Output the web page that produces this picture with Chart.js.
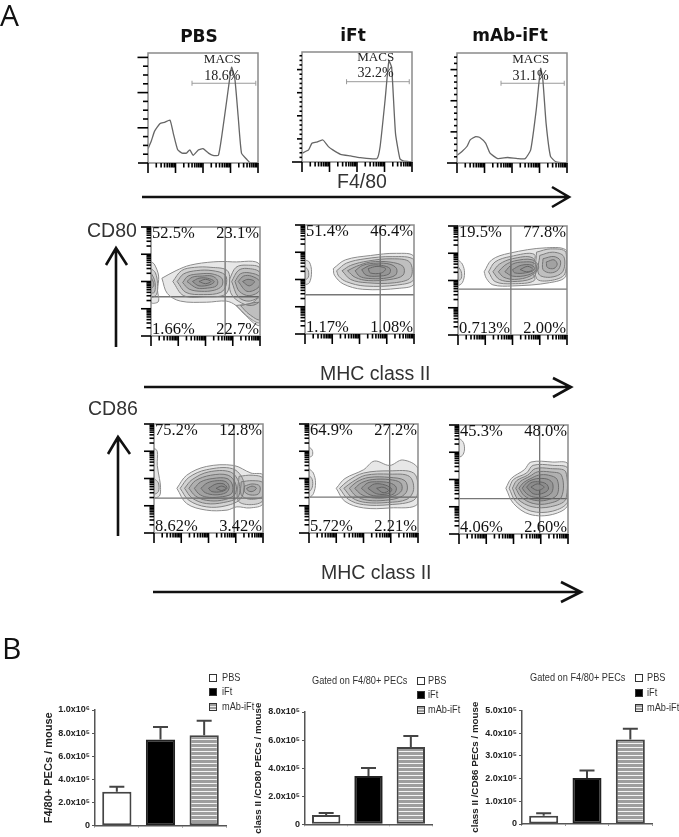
<!DOCTYPE html>
<html>
<head>
<meta charset="utf-8">
<title>F4/80 and MHC class II panels</title>
<script src="https://cdn.jsdelivr.net/npm/chart.js@4/dist/chart.umd.min.js"></script>
<style>
  html, body { margin: 0; padding: 0; background: #fff; }
  #page { position: relative; width: 679px; height: 837px; overflow: hidden; filter: blur(0.45px); }
  #page canvas { position: absolute; }
  #arrows { position: absolute; left: 0; top: 0; }
  .txt { position: absolute; white-space: nowrap; font-family: "Liberation Sans", sans-serif; line-height: 1; }
  .letter { font-family: "Open Sans", sans-serif; font-size: 30px; color: #111; }
  .group { font-family: "DejaVu Sans", sans-serif; font-size: 17px; font-weight: bold; color: #111; transform: translate(-50%, -50%); }
  .axisname { font-size: 19.5px; color: #333; transform: translateY(-50%); }
  .gated, .legtext { font-size: 11.5px; color: #333; transform-origin: left center; transform: translateY(-50%) scaleX(0.8); }
  .swatch { position: absolute; width: 6px; height: 6px; border: 1.5px solid #333; transform: translateY(-50%); }
</style>
</head>
<body>
<div id="page">
  <svg id="arrows" width="679" height="837" fill="none" stroke="#111" stroke-width="2.6">
    <path d="M142 197H568M552 187L569 197L552 207"/>
    <path d="M116 347V249M106 265L116 248L127 265"/>
    <path d="M144 387H570M553 378L571 387L553 397"/>
    <path d="M118 536V438M108 454L118 437L130 454"/>
    <path d="M153 592H580M561 582L581 592L561 602"/>
  </svg>
</div>
<script>
// bar charts
const categories = ['PBS', 'iFt', 'mAb-iFt'];
const f480Means = [294000, 746000, 781000];
const f480Tops = [337000, 853000, 908000];
const f480Ticks = ['0', '2.0x10⁵', '4.0x10⁵', '6.0x10⁵', '8.0x10⁵', '1.0x10⁶'];
const cd80Means = [66500, 344000, 551000];
const cd80Tops = [80700, 401000, 629000];
const cd80Ticks = ['0', '2.0x10⁵', '4.0x10⁵', '6.0x10⁵', '8.0x10⁵'];
const cd86Means = [36700, 202000, 372000];
const cd86Tops = [46900, 235000, 419000];
const cd86Ticks = ['0', '1.0x10⁵', '2.0x10⁵', '3.0x10⁵', '4.0x10⁵', '5.0x10⁵'];

// histograms, x and y in % of the frame
const histPbsX = [0, 3, 6, 11, 15, 20, 23, 27, 31, 35, 38, 41, 46, 50, 55, 59, 64, 67, 72, 76, 79, 82, 85, 90, 93, 100];
const histPbsY = [13, 20, 29, 36, 37, 39, 27, 12, 9, 9, 12, 7, 12, 13, 9, 7, 7, 24, 60, 87, 76, 42, 9, 3, 0, 0];
const histIftX = [0, 6, 9, 13, 19, 24, 28, 35, 44, 53, 68, 71, 75.5, 79, 81.5, 85, 89, 92, 100];
const histIftY = [8, 11, 17, 18, 20, 14, 11, 7, 5.5, 4, 3, 14, 56, 92, 86, 26, 3, 1, 0];
const histMabX = [0, 5, 9, 12, 17, 21, 26, 30, 37, 46, 55, 62, 67, 72, 76, 78, 81, 85, 90, 100];
const histMabY = [7, 11, 15, 21, 24, 23, 18, 9, 4, 5, 4, 4, 12, 48, 86, 76, 36, 6, 1, 0];

// contour rings, outer to inner, [x, y] in % of the frame
const cd80PbsRings = [
  [[10,53],[23,60],[36,65],[57,68],[75,68],[100,65],[100,13],[87,19],[78,28],[69,32],[51,31],[27,32],[15,39]],
  [[78,28],[87,19],[94,12],[100,10],[100,35],[92,30]],
  [[82,28],[90,20],[100,15],[100,30]],
  [[0,68],[3,66],[7,55],[6,42],[7,32],[3,30],[0,31]],
  [[0,62],[4,58],[6,48],[5,38],[0,36]],
  [[0,58],[3,52],[4,46],[3,40],[0,40]],
  [[20,50],[28,60],[40,63],[55,63],[70,60],[72,48],[68,38],[50,36],[30,37]],
  [[24,50],[30,57],[42,60],[56,60],[68,56],[69,47],[64,40],[48,38],[32,40]],
  [[29,49],[34,55],[45,57],[56,57],[65,53],[65,46],[58,42],[46,41],[35,43]],
  [[33,50],[38,54],[47,55],[56,55],[61,51],[60,46],[52,44],[42,44]],
  [[38,50],[44,53],[52,53],[58,50],[54,47],[44,46]],
  [[72,52],[78,63],[88,65],[100,62],[100,33],[92,28],[80,32],[73,40]],
  [[74,50],[80,60],[88,62],[100,58],[100,38],[90,32],[80,36]],
  [[77,50],[82,57],[90,58],[100,54],[100,42],[90,37],[81,41]],
  [[80,50],[85,55],[92,55],[100,50],[98,44],[88,41]],
  [[0,54],[2,50],[2.5,46],[0,44]],
  [[84,50],[89,52],[95,50],[90,46]],
  [[44,50],[50,52],[55,50],[50,48]]
];
const cd80IftRings = [
  [[0,68],[4,66],[6,57],[4,47],[0,46]],
  [[0,62],[3,58],[3,52],[0,50]],
  [[26,60],[37,68],[60,72],[84,74],[100,71],[100,46],[87,42],[53,41],[35,46],[27,54]],
  [[29,58],[38,65],[55,69],[80,71],[100,68],[100,50],[85,45],[55,44],[38,48],[31,53]],
  [[34,58],[42,63],[58,67],[80,69],[96,66],[97,52],[82,47],[57,47],[42,50]],
  [[39,58],[47,62],[60,66],[78,66],[90,62],[90,54],[78,50],[58,49],[46,52]],
  [[46,58],[53,63],[66,65],[78,64],[84,60],[83,54],[72,51],[58,51],[50,53]],
  [[52,59],[60,63],[70,63],[78,60],[77,55],[66,53],[56,54]],
  [[58,60],[66,62],[74,60],[70,56],[60,56]]
];
const cd80MabRings = [
  [[0,69],[4,65],[6,57],[4,48],[0,46]],
  [[0,63],[3,58],[3,52],[0,50]],
  [[24,58],[31,69],[47,75],[81,80],[100,77],[99,54],[84,48],[50,45],[32,46],[26,52]],
  [[72,76],[85,79],[99,76],[98,56],[85,50],[72,52]],
  [[75,73],[87,76],[97,72],[96,58],[85,53],[74,56]],
  [[78,70],[88,72],[94,68],[92,60],[85,57],[78,60]],
  [[81,67],[88,69],[91,65],[88,61],[82,62]],
  [[28,58],[34,67],[48,72],[70,74],[68,60],[70,50],[50,47],[34,49]],
  [[32,58],[38,65],[50,70],[68,71],[72,60],[68,52],[50,49],[38,51]],
  [[37,58],[43,64],[52,68],[68,69],[74,62],[66,54],[52,51],[42,53]],
  [[43,58],[50,65],[60,67],[70,66],[72,60],[64,55],[50,54]],
  [[50,60],[58,64],[68,64],[70,60],[62,57],[52,57]],
  [[57,60],[64,63],[69,60],[63,58]]
];
const cd86PbsRings = [
  [[0,78],[3,75],[3,62],[5,50],[6,42],[5,34],[0,33]],
  [[0,50],[4,46],[4,38],[0,36]],
  [[21,41],[30,53],[48,61],[73,62],[89,55],[100,53],[100,27],[88,23],[76,24],[67,21],[48,21],[30,27]],
  [[78,52],[90,53],[100,50],[100,30],[88,26],[77,30]],
  [[80,47],[90,48],[100,46],[100,34],[88,31],[80,35]],
  [[83,43],[90,45],[97,43],[96,36],[88,35],[83,38]],
  [[24,41],[32,51],[48,58],[72,59],[82,48],[80,32],[66,25],[48,24],[32,30]],
  [[28,41],[35,49],[50,56],[70,56],[78,46],[77,33],[64,28],[48,27],[35,32]],
  [[32,41],[38,48],[52,53],[68,53],[75,45],[74,35],[62,30],[48,30],[38,34]],
  [[37,41],[43,47],[54,50],[67,50],[72,44],[71,36],[60,33],[48,33],[41,36]],
  [[43,41],[49,46],[58,48],[66,47],[69,42],[66,37],[56,35],[47,37]],
  [[50,41],[57,45],[64,45],[67,41],[62,38],[53,38]],
  [[85,41],[90,43],[94,41],[90,38],[86,39]],
  [[57,41],[62,43],[66,41],[62,39]]
];
const cd86IftRings = [
  [[0,79],[3,76],[3,71],[0,70]],
  [[0,59],[4,55],[6,46],[4,36],[0,33]],
  [[0,53],[3,49],[3,42],[0,38]],
  [[25,41],[33,50],[50,58],[60,66],[74,62],[86,67],[100,59],[100,27],[74,23],[50,23],[33,29]],
  [[28,41],[36,48],[50,55],[74,57],[96,55],[100,40],[96,30],[74,26],[50,26],[36,31]],
  [[32,41],[40,47],[52,53],[74,54],[92,52],[96,40],[90,31],[72,28],[52,28],[40,32]],
  [[37,41],[44,47],[55,51],[74,51],[88,48],[90,39],[84,33],[70,30],[54,30],[43,34]],
  [[42,41],[48,46],[58,49],[74,49],[84,46],[85,39],[78,34],[66,32],[54,33],[47,36]],
  [[48,41],[54,46],[62,47],[74,46],[80,42],[78,36],[68,34],[56,35]],
  [[54,41],[60,45],[70,44],[76,40],[72,36],[62,36]],
  [[62,41],[68,42],[73,39],[68,37]]
];
const cd86MabRings = [
  [[0,88],[4,84],[5,77],[3,72],[0,71]],
  [[43,42],[48,51],[60,59],[66,66],[86,66],[100,64],[100,27],[86,18],[65,18],[50,28]],
  [[46,42],[50,50],[62,56],[68,63],[86,63],[100,60],[100,30],[86,21],[66,21],[52,30]],
  [[49,42],[53,49],[63,54],[70,60],[84,60],[98,57],[98,32],[84,25],[67,25],[54,32]],
  [[52,42],[56,48],[65,53],[72,57],[83,57],[94,54],[94,34],[82,28],[68,28],[57,34]],
  [[55,42],[59,47],[66,51],[73,54],[82,54],[90,50],[90,36],[80,31],[69,31],[60,35]],
  [[58,42],[62,47],[68,50],[74,51],[82,50],[86,46],[85,38],[78,34],[68,34],[62,37]],
  [[62,43],[66,47],[72,48],[80,46],[82,41],[76,37],[68,37]],
  [[66,43],[72,46],[78,43],[72,40]]
];

const cd80PbsPct = ['52.5%', '23.1%', '1.66%', '22.7%'];
const cd80IftPct = ['51.4%', '46.4%', '1.17%', '1.08%'];
const cd80MabPct = ['19.5%', '77.8%', '0.713%', '2.00%'];
const cd86PbsPct = ['75.2%', '12.8%', '8.62%', '3.42%'];
const cd86IftPct = ['64.9%', '27.2%', '5.72%', '2.21%'];
const cd86MabPct = ['45.3%', '48.0%', '4.06%', '2.60%'];
const decades = [1, 10, 100, 1000];
const minors = [2, 3, 4, 5, 6, 7, 8, 9];

const page = document.getElementById('page');
const INK = '#000';
const FRAME = '#8a8a8a';

function addText(cls, text, x, y) {
  const d = document.createElement('div');
  d.className = 'txt ' + cls;
  d.textContent = text;
  d.style.left = x + 'px';
  d.style.top = y + 'px';
  page.appendChild(d);
  return d;
}

function addCanvas(left, top, w, h) {
  const c = document.createElement('canvas');
  c.width = w;
  c.height = h;
  c.style.left = left + 'px';
  c.style.top = top + 'px';
  page.appendChild(c);
  return c;
}

const facsAxes = {
  id: 'facsAxes',
  afterDatasetsDraw(chart, args, opts) {
    const ctx = chart.ctx, a = chart.chartArea;
    ctx.save();
    ctx.strokeStyle = FRAME;
    ctx.lineWidth = 1.5;
    ctx.strokeRect(a.left, a.top, a.right - a.left, a.bottom - a.top);
    ctx.strokeStyle = INK;
    ctx.lineWidth = 1.6;
    const line = (x1, y1, x2, y2) => {
      ctx.beginPath();
      ctx.moveTo(x1, y1);
      ctx.lineTo(x2, y2);
      ctx.stroke();
    };
    const logX = chart.scales.xLog, logY = chart.scales.yLog;
    decades.forEach(d => {
      const px = logX.getPixelForValue(d);
      line(px, a.bottom, px, a.bottom + 10);
      minors.forEach(m => {
        const p = logX.getPixelForValue(d * m);
        line(p, a.bottom, p, a.bottom + 4.5);
      });
    });
    line(a.right, a.bottom, a.right, a.bottom + 10);
    if (opts.yStep) {
      // linear count axis of the histograms
      let n = 0;
      for (let v = 0; v <= 100; v += opts.yStep.minor) {
        const py = chart.scales.y.getPixelForValue(v);
        const big = n % opts.yStep.every === 0;
        const len = n === 0 ? 10 : (big ? opts.yStep.major : opts.yStep.small);
        line(a.left - len, py, a.left, py);
        n++;
      }
    } else {
      decades.forEach(d => {
        const py = logY.getPixelForValue(d);
        line(a.left - 10, py, a.left, py);
        minors.forEach(m => {
          const p = logY.getPixelForValue(d * m);
          line(a.left - 4.5, p, a.left, p);
        });
      });
      const py = logY.getPixelForValue(10000);
      line(a.left - 10, py, a.left, py);
    }
    // labels
    const sx = chart.scales.x, sy = chart.scales.y;
    ctx.fillStyle = opts.labelColor;
    ctx.textBaseline = 'middle';
    opts.labels.forEach(l => {
      ctx.font = l[4] + 'px "Liberation Serif", serif';
      ctx.textAlign = l[3];
      ctx.fillText(l[2], sx.getPixelForValue(l[0]), sy.getPixelForValue(l[1]));
    });
    ctx.restore();
  }
};

function panelScales() {
  return {
    x: { type: 'linear', min: 0, max: 100, display: false },
    y: { type: 'linear', min: 0, max: 100, display: false },
    xLog: { type: 'logarithmic', axis: 'x', min: 1, max: 10000, display: false },
    yLog: { type: 'logarithmic', axis: 'y', min: 1, max: 10000, display: false }
  };
}

function zipXY(xs, ys) {
  return xs.map((x, i) => ({ x: x, y: ys[i] }));
}

function drawHist(left, top, xs, ys, macs, gate, yStep) {
  const w = 110, h = 110;
  const c = addCanvas(left - 14, top - 3, w + 17, h + 17);
  new Chart(c, {
    type: 'scatter',
    data: {
      datasets: [
        {
          data: zipXY(xs, ys), showLine: true, pointRadius: 0,
          borderColor: '#666', borderWidth: 1.3, tension: 0.15
        },
        {
          data: zipXY(gate.x, gate.y), showLine: true, borderColor: '#9a9a9a', borderWidth: 1,
          pointStyle: 'line', rotation: 90, pointRadius: 2.5, pointBorderColor: '#9a9a9a', pointBorderWidth: 1
        }
      ]
    },
    options: {
      responsive: false, animation: false,
      layout: { autoPadding: false, padding: { left: 14, top: 3, right: 3, bottom: 14 } },
      scales: panelScales(),
      plugins: {
        legend: { display: false }, tooltip: { enabled: false },
        facsAxes: {
          yStep: yStep, labelColor: '#222',
          labels: [[macs.x, macs.y1, 'MACS', 'center', 13], [macs.x, macs.y2, macs.pct, 'center', 14]]
        }
      }
    },
    plugins: [facsAxes]
  });
}

function drawContour(left, top, rings, vx, hy, pct) {
  const w = 109, h = 109;
  const c = addCanvas(left - 14, top - 3, w + 17, h + 17);
  const ringSets = rings.map((r, i) => {
    const last = i === rings.length - 1;
    const pts = r.concat([r[0]]).map(p => ({ x: p[0], y: p[1] }));
    return {
      data: pts, showLine: true, pointRadius: 0, tension: 0.35,
      borderColor: '#8c8c8c', borderWidth: 1,
      fill: 'shape',
      backgroundColor: last ? 'rgba(255,255,255,0.9)' : 'rgba(70,70,70,0.13)'
    };
  });
  const lines = [
    { data: [{ x: vx, y: 0 }, { x: vx, y: 100 }], showLine: true, pointRadius: 0, borderColor: '#777', borderWidth: 1.3 },
    { data: [{ x: 0, y: hy }, { x: 100, y: hy }], showLine: true, pointRadius: 0, borderColor: '#777', borderWidth: 1.3 }
  ];
  new Chart(c, {
    type: 'scatter',
    data: { datasets: ringSets.concat(lines) },
    options: {
      responsive: false, animation: false,
      layout: { autoPadding: false, padding: { left: 14, top: 3, right: 3, bottom: 14 } },
      scales: panelScales(),
      plugins: {
        legend: { display: false }, tooltip: { enabled: false },
        facsAxes: {
          labelColor: '#111',
          labels: [
            [1, 93.5, pct[0], 'left', 16.5], [99, 93.5, pct[1], 'right', 16.5],
            [1, 5.5, pct[2], 'left', 16.5], [99, 5.5, pct[3], 'right', 16.5]
          ]
        }
      }
    },
    plugins: [facsAxes]
  });
}

const errorBars = {
  id: 'errorBars',
  afterDatasetsDraw(chart, args, opts) {
    const ctx = chart.ctx, meta = chart.getDatasetMeta(0), y = chart.scales.y;
    ctx.save();
    ctx.strokeStyle = '#444';
    ctx.lineWidth = 2;
    meta.data.forEach((bar, i) => {
      const top = y.getPixelForValue(opts.tops[i]);
      ctx.beginPath();
      ctx.moveTo(bar.x, bar.y);
      ctx.lineTo(bar.x, top);
      ctx.moveTo(bar.x - 7.5, top);
      ctx.lineTo(bar.x + 7.5, top);
      ctx.stroke();
    });
    ctx.restore();
  }
};

function stripes() {
  const p = document.createElement('canvas');
  p.width = 4;
  p.height = 4;
  const g = p.getContext('2d');
  g.fillStyle = '#9e9e9e';
  g.fillRect(0, 0, 4, 4);
  g.fillStyle = '#f4f4f4';
  g.fillRect(0, 3, 4, 1);
  return g.createPattern(p, 'repeat');
}

function drawBars(axisX, axisRight, axisTop, axisBottom, means, tops, ticks, maxVal, title, titleSize) {
  const canvasLeft = axisX - 60, canvasTop = 688;
  const c = addCanvas(canvasLeft, canvasTop, axisRight - canvasLeft + 6, 837 - canvasTop);
  const step = maxVal / (ticks.length - 1);
  new Chart(c, {
    type: 'bar',
    data: {
      labels: categories,
      datasets: [{
        data: means,
        backgroundColor: ['#fff', '#000', stripes()],
        borderColor: ['#444', '#222', '#444'],
        borderWidth: 2, borderSkipped: false,
        barPercentage: 0.67, categoryPercentage: 1
      }]
    },
    options: {
      responsive: false, animation: false,
      layout: { padding: { top: axisTop - canvasTop, right: 6, left: 0, bottom: 0 } },
      scales: {
        x: {
          grid: { drawOnChartArea: false, tickLength: 2, color: '#999' },
          border: { color: '#555', width: 1.5 },
          ticks: { display: false },
          afterFit(s) { s.height = 837 - axisBottom; }
        },
        y: {
          min: 0, max: maxVal,
          grid: { drawOnChartArea: false, tickLength: 3, color: '#555' },
          border: { color: '#555', width: 1.5 },
          ticks: {
            stepSize: step, padding: 2, color: '#222',
            font: { family: '"Liberation Sans", sans-serif', size: 9, weight: 'bold' },
            callback: (v, i) => ticks[i]
          },
          title: {
            display: true, text: title, color: '#222', padding: { top: 7, bottom: 0 },
            font: { family: '"Liberation Sans", sans-serif', size: titleSize, weight: 'bold' }
          },
          afterFit(s) { s.width = 60; }
        }
      },
      plugins: {
        legend: { display: false }, tooltip: { enabled: false },
        errorBars: { tops: tops }
      }
    },
    plugins: [errorBars]
  });
}

function addLegend(boxX, textX, ys) {
  const fills = ['#fff', '#000', 'repeating-linear-gradient(#9e9e9e 0 2px, #eee 2px 3px)'];
  categories.forEach((name, i) => {
    const s = document.createElement('div');
    s.className = 'swatch';
    s.style.left = boxX + 'px';
    s.style.top = ys[i] + 'px';
    s.style.background = fills[i];
    page.appendChild(s);
    addText('legtext', name, textX, ys[i]);
  });
}

// panel A
addText('letter', 'A', 0, 0);
addText('group', 'PBS', 199, 36);
addText('group', 'iFt', 353, 35);
addText('group', 'mAb-iFt', 510, 35);
addText('axisname', 'F4/80', 337, 182);
addText('axisname', 'CD80', 87, 231);
addText('axisname', 'MHC class II', 320, 374);
addText('axisname', 'CD86', 88, 409);
addText('axisname', 'MHC class II', 321, 573);

drawHist(148, 53, histPbsX, histPbsY, { x: 67.5, y1: 94, y2: 79, pct: '18.6%' },
  { x: [40, 98], y: [72.5, 72.5] }, { minor: 8, every: 4, major: 10.5, small: 5 });
drawHist(302, 52, histIftX, histIftY, { x: 67, y1: 95, y2: 80.5, pct: '32.2%' },
  { x: [40.5, 97.5], y: [73, 73] }, { minor: 4.2, every: 5, major: 5, small: 2.5 });
drawHist(457, 53, histMabX, histMabY, { x: 67, y1: 94, y2: 79, pct: '31.1%' },
  { x: [40, 97.5], y: [72.5, 72.5] }, { minor: 5.66, every: 5, major: 6.5, small: 3 });

drawContour(151, 227, cd80PbsRings, 68, 36, cd80PbsPct);
drawContour(305, 225, cd80IftRings, 69, 36, cd80IftPct);
drawContour(458, 226, cd80MabRings, 48.5, 42, cd80MabPct);
drawContour(154, 424, cd86PbsRings, 73.5, 32, cd86PbsPct);
drawContour(309, 424, cd86IftRings, 74, 33, cd86IftPct);
drawContour(459, 425, cd86MabRings, 74, 32.5, cd86MabPct);

// panel B
addText('letter', 'B', 2, 633);
drawBars(95, 226, 710, 825.7, f480Means, f480Tops, f480Ticks, 1000000, 'F4/80+ PECs / mouse', 11);
drawBars(305, 432, 712, 824.3, cd80Means, cd80Tops, cd80Ticks, 800000, 'class II /CD80 PECs / mouse', 9.8);
drawBars(522, 652, 710.3, 824, cd86Means, cd86Tops, cd86Ticks, 500000, 'class II /CD86 PECs / mouse', 9.8);
addText('gated', 'Gated on F4/80+ PECs', 312, 681);
addText('gated', 'Gated on F4/80+ PECs', 530, 678);
addLegend(209, 222, [678, 692, 707]);
addLegend(417, 428, [681, 695, 710]);
addLegend(635, 647, [678, 693, 708]);
</script>
</body>
</html>
